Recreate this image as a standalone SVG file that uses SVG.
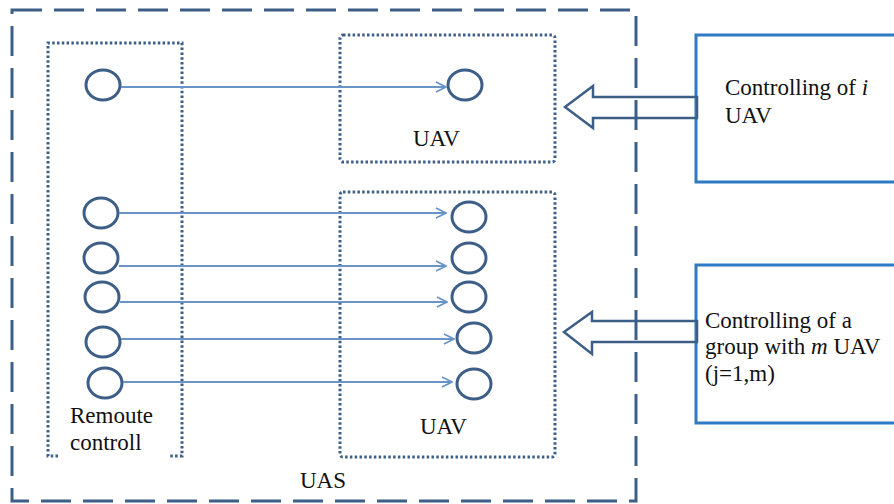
<svg xmlns="http://www.w3.org/2000/svg" width="894" height="504" viewBox="0 0 894 504">
<defs>
<style>
.dash{fill:none;stroke:#3d5f87;stroke-width:3;stroke-dasharray:30 12}
.dot{fill:none;stroke:#3d5f87;stroke-width:3;stroke-dasharray:2.5 2.3}
.node{fill:#fff;stroke:#3d5f87;stroke-width:3}
.link{fill:none;stroke:#6a94c8;stroke-width:2;marker-end:url(#ah)}
.block{fill:none;stroke:#3d5f87;stroke-width:2.5;stroke-linejoin:miter}
.ctrl{fill:#fff;stroke:#2e7bc4;stroke-width:3}
</style>
<marker id="ah" viewBox="0 0 12 12" refX="11" refY="6" markerWidth="12" markerHeight="12" markerUnits="userSpaceOnUse" orient="auto">
<path d="M1,1 L11,6 L1,11" fill="none" stroke="#6a94c8" stroke-width="1.8"/>
</marker>
</defs>
<g font-family="Liberation Serif, Times New Roman, serif" font-size="23" fill="#111">
<g id="uas">
<rect class="dash" x="12" y="10" width="624" height="491"/>
<text x="300" y="488">UAS</text>
</g>
<g id="remote-control">
<path class="dot" d="M58,456 L48,456 L48,43 L182,43 L182,456 L168,456"/>
<text x="70" y="423">Remoute</text>
<text x="70" y="450">controll</text>
<ellipse class="node" cx="103" cy="85" rx="17" ry="15"/>
<ellipse class="node" cx="101" cy="213" rx="17" ry="15"/>
<ellipse class="node" cx="101" cy="258" rx="17" ry="15"/>
<ellipse class="node" cx="102" cy="297" rx="17" ry="15"/>
<ellipse class="node" cx="103" cy="342" rx="17" ry="15"/>
<ellipse class="node" cx="105" cy="383" rx="17" ry="15"/>
</g>
<g id="uav-single">
<rect class="dot" x="340" y="35" width="215" height="127" rx="3"/>
<ellipse class="node" cx="465" cy="85" rx="17" ry="15"/>
<text x="413" y="146">UAV</text>
</g>
<g id="uav-group">
<rect class="dot" x="340" y="192" width="215" height="265" rx="3"/>
<ellipse class="node" cx="469" cy="217" rx="17" ry="15"/>
<ellipse class="node" cx="469" cy="258" rx="17" ry="15"/>
<ellipse class="node" cx="469" cy="297" rx="17" ry="15"/>
<ellipse class="node" cx="474" cy="338" rx="17" ry="15"/>
<ellipse class="node" cx="474" cy="384" rx="17" ry="15"/>
<text x="420" y="434">UAV</text>
</g>
<g id="control-i">
<rect class="ctrl" x="696" y="35" width="230" height="147"/>
<text x="725" y="95">Controlling of <tspan font-style="italic">i</tspan></text>
<text x="725" y="123">UAV</text>
</g>
<g id="control-group">
<rect class="ctrl" x="696" y="265" width="230" height="158"/>
<text x="705" y="328">Controlling of a</text>
<text x="705" y="354">group with <tspan font-style="italic">m</tspan> UAV</text>
<text x="705" y="381">(j=1,m)</text>
</g>
<g id="connectors">
<path class="link" d="M121,87 L446,87"/>
<path class="link" d="M119,213 L446,213"/>
<path class="link" d="M119,266 L446,266"/>
<path class="link" d="M120,302 L447,302"/>
<path class="link" d="M121,339 L454,339"/>
<path class="link" d="M123,382 L452,382"/>
<polygon class="block" points="697,97 593,97 593,86 565,107 593,128 593,118 697,118"/>
<polygon class="block" points="697,321 592,321 592,312 564,332 592,354 592,342 697,342"/>
</g>
</g>
</svg>
